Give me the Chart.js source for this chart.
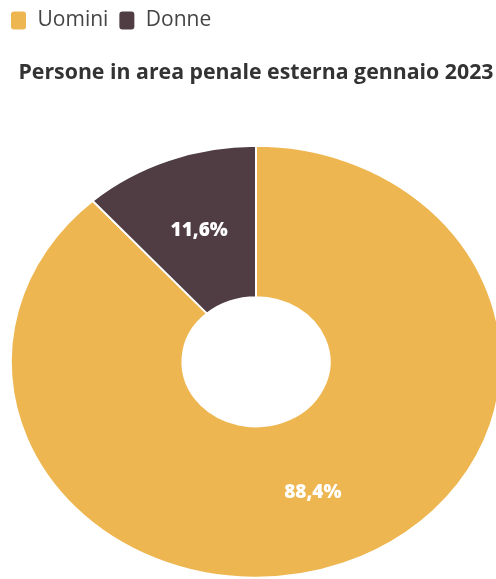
<!DOCTYPE html>
<html>
<head>
<meta charset="utf-8">
<script src="https://cdn.jsdelivr.net/npm/chart.js@4"></script>
<style>
  html, body { margin: 0; padding: 0; background: #fff; overflow: hidden; }
  #wrap { width: 512px; height: 608px; position: relative; }
</style>
</head>
<body>
<div id="wrap"><canvas id="myChart"></canvas></div>
<script>
const labels = ['Uomini', 'Donne'];
const values = [88.4, 11.6];
const colors = ['#EEB650', '#4F3D43'];
const valueLabels = ['88,4%', '11,6%'];

// the reference ring is a little flatter than a circle
const squashY = 0.88;

const squash = {
    id: 'squash',
    beforeDatasetsDraw(chart) {
        const arc = chart.getDatasetMeta(0).data[0];
        const ctx = chart.ctx;
        ctx.save();
        ctx.translate(arc.x, arc.y);
        ctx.scale(1, squashY);
        ctx.translate(-arc.x, -arc.y);
    },
    afterDatasetsDraw(chart) {
        const ctx = chart.ctx;
        ctx.restore();
        // value labels at the arc centres, moved into the flattened ring
        chart.getDatasetMeta(0).data.forEach(function (arc, i) {
            const p = arc.tooltipPosition();
            const y = arc.y + (p.y - arc.y) * squashY;
            ctx.save();
            ctx.fillStyle = '#fff';
            ctx.font = '800 19px "Open Sans"';
            ctx.textAlign = 'center';
            ctx.textBaseline = 'middle';
            ctx.fillText(valueLabels[i], p.x, y);
            ctx.restore();
        });
    }
};

const data = {
    labels: labels,
    datasets: [
        {
            data: values,
            backgroundColor: colors,
            borderColor: '#fff',
            borderWidth: 2,
            hoverOffset: 0
        }
    ]
};

const config = {
    type: 'doughnut',
    data: data,
    plugins: [squash],
    options: {
        responsive: true,
        maintainAspectRatio: false,
        animation: false,
        cutout: '30%',
        layout: { padding: 0 },
        plugins: {
            legend: {
                position: 'top',
                align: 'start',
                labels: {
                    boxWidth: 17,
                    boxHeight: 20,
                    useBorderRadius: true,
                    borderRadius: 4,
                    color: '#444',
                    font: { family: 'Open Sans', size: 21 }
                }
            },
            title: {
                display: true,
                weight: 500,
                text: 'Persone in area penale esterna gennaio 2023',
                color: '#333',
                font: { family: 'Open Sans', size: 21.3, weight: 'bold' },
                padding: { top: 19, bottom: 30 }
            },
            tooltip: { enabled: false }
        }
    }
};

const myChart = new Chart(
    document.getElementById('myChart'),
    config
);
</script>
</body>
</html>
